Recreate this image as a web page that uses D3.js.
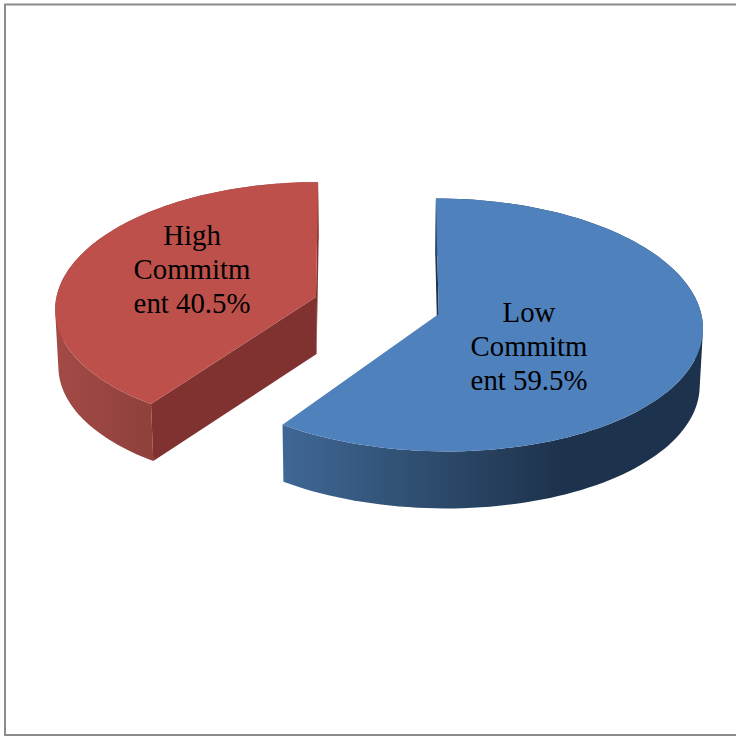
<!DOCTYPE html>
<html>
<head>
<meta charset="utf-8">
<style>
  html, body { margin: 0; padding: 0; background: #fff; }
  svg { display: block; }
  text { font-family: "Liberation Serif", serif; font-size: 28.8px; fill: #000; text-anchor: middle; }
</style>
<script src="https://cdn.jsdelivr.net/npm/d3@7"></script>
</head>
<body>
<script>
// Commitment shares, in percent
const categories = ["Low Commitment", "High Commitment"];
const shares = [59.5, 40.5];
const labelLines = [["Low", "Commitm", "ent 59.5%"], ["High", "Commitm", "ent 40.5%"]];

const topColors = ["#4f81bd", "#be504c"];
const cutColors = ["#1d324c", "#7f3230"];
const wallStops = [
  [[0, "#3f6795"], [0.6, "#2b4868"], [1, "#1d324c"]],
  [[0, "#a34a45"], [1, "#8e403b"]]
];
const wallSpans = [[285, 560], [57, 155]];
const labelAnchors = [[529, 322], [192, 245]];
const lineStep = 34;

const size = 736;
const explodeX = 0.246;
const explodeY = 0.24;
const centre = { x: 377, y: 305.5 };
const radius = { x: 261, y: 120 };
const depth = 57;

const svg = d3.select("body").append("svg").attr("width", size).attr("height", size);

// Pie layout clockwise from twelve o'clock, as in a 3-D spreadsheet pie
const arcs = d3.pie().sort(null).value(d => d)(shares);

// Ground-plane scales; the perspective factor is applied before them
const xScale = d3.scaleLinear().domain([-1, 1]).range([centre.x - radius.x, centre.x + radius.x]);
const yScale = d3.scaleLinear().domain([-1, 1]).range([centre.y + radius.y, centre.y - radius.y]);

// Projects a ground-plane point to the screen; z = 0 is the top face, z = 1 the base
function project(X, Y, z) {
  const s = 1 - 0.082 * Y + 0.042 * Y * Y;
  const px = xScale(X * s);
  return [centre.x + (px - centre.x) * (1 - 0.01 * z), yScale(Y * s) + depth * z];
}

const line = d3.line();
const defs = svg.append("defs");

// Frame on the left, top and bottom edges
const frame = d3.path();
frame.moveTo(size, 4.5);
frame.lineTo(5, 4.5);
frame.lineTo(5, 735);
frame.lineTo(size, 735);
svg.append("path").attr("d", frame.toString()).attr("fill", "none").attr("stroke", "#8c8c8c").attr("stroke-width", 2);

arcs.forEach((a, i) => {
  const mid = (a.startAngle + a.endAngle) / 2;
  const ox = explodeX * Math.sin(mid);
  const oy = explodeY * Math.cos(mid);
  const angles = d3.range(0, 121).map(k => a.startAngle + (a.endAngle - a.startAngle) * k / 120);
  const rimPoint = (t, z) => project(ox + Math.sin(t), oy + Math.cos(t), z);
  const apex = z => project(ox, oy, z);

  const gradId = "wall-" + i;
  const grad = defs.append("linearGradient").attr("id", gradId)
    .attr("gradientUnits", "userSpaceOnUse")
    .attr("x1", wallSpans[i][0]).attr("x2", wallSpans[i][1]).attr("y1", 0).attr("y2", 0);
  wallStops[i].forEach(s => grad.append("stop").attr("offset", s[0]).attr("stop-color", s[1]));

  const g = svg.append("g").attr("class", "slice").attr("aria-label", categories[i]);

  // Back cut face, hidden apart from a thin sliver beside the top surface
  const backAngle = i === 0 ? a.startAngle : a.endAngle;
  g.append("path")
    .attr("d", line([apex(0), rimPoint(backAngle, 0), rimPoint(backAngle, 1), apex(1)]) + "Z")
    .attr("fill", cutColors[i]);

  // Curved wall as consistently wound quads, so the silhouette stays filled at the extremes
  const wall = d3.pairs(angles).map(([t0, t1]) => {
    const quad = [rimPoint(t0, 0), rimPoint(t1, 0), rimPoint(t1, 1), rimPoint(t0, 1)];
    if (d3.polygonArea(quad) < 0) quad.reverse();
    return line(quad) + "Z";
  }).join("");
  g.append("path").attr("d", wall).attr("fill", `url(#${gradId})`);

  // Front cut face of the red slice sits over its wall
  if (i === 1) {
    g.append("path")
      .attr("d", line([apex(0), rimPoint(a.startAngle, 0), rimPoint(a.startAngle, 1), apex(1)]) + "Z")
      .attr("fill", cutColors[i]);
  }

  g.append("path")
    .attr("d", line([apex(0)].concat(angles.map(t => rimPoint(t, 0)))) + "Z")
    .attr("fill", topColors[i]);

  const label = g.append("text").attr("x", labelAnchors[i][0]).attr("y", labelAnchors[i][1]);
  labelLines[i].forEach((t, k) => {
    label.append("tspan").attr("x", labelAnchors[i][0]).attr("dy", k ? lineStep : 0).text(t);
  });
});
</script>
</body>
</html>
